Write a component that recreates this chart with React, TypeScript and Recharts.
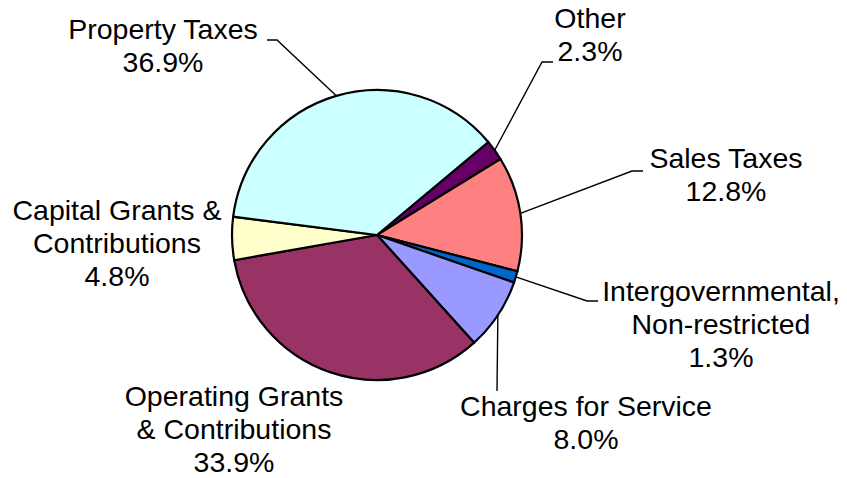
import { PieChart, Pie, Cell } from 'recharts'

// slices in clockwise order, starting at the Property/Other boundary
const categories = [
  'Other',
  'Sales Taxes',
  'Intergovernmental, Non-restricted',
  'Charges for Service',
  'Operating Grants & Contributions',
  'Capital Grants & Contributions',
  'Property Taxes',
]
const shares = [2.3, 12.8, 1.3, 8.0, 33.9, 4.8, 36.9]
const labelLines = [
  ['Other'],
  ['Sales Taxes'],
  ['Intergovernmental,', 'Non-restricted'],
  ['Charges for Service'],
  ['Operating Grants', '& Contributions'],
  ['Capital Grants &', 'Contributions'],
  ['Property Taxes'],
]
const colors = ['#660066', '#FF8080', '#0066CC', '#9999FF', '#993366', '#FFFFCC', '#CCFFFF']

// label placement relative to pie centre: elbow of leader, tail end x, text centre/baseline
const labelLayout = [
  { elbow: [165, -173], tail: 176, text: [213, -207] },
  { elbow: [255, -64], tail: 266, text: [349, -67] },
  { elbow: [210, 66], tail: 221, text: [344, 66] },
  { elbow: [120, 156], tail: null, text: [209, 181] },
  { elbow: null, tail: null, text: [-143, 171] },
  { elbow: null, tail: null, text: [-260, -15] },
  { elbow: [-100, -195], tail: -110, text: [-214, -196] },
]

const data = categories.map((name, i) => ({ name, value: shares[i] }))

const RADIAN = Math.PI / 180
const LINE_H = 33

const renderLabel = (props: any) => {
  const { cx, cy, midAngle, outerRadius, index, value } = props
  const lay = labelLayout[index]
  const sx = cx + outerRadius * Math.cos(-midAngle * RADIAN)
  const sy = cy + outerRadius * Math.sin(-midAngle * RADIAN)
  const lines = [...labelLines[index], `${value.toFixed(1)}%`]
  let path = ''
  if (lay.elbow) {
    const ex = cx + lay.elbow[0]
    const ey = cy + lay.elbow[1]
    path = `M${sx},${sy}L${ex},${ey}`
    if (lay.tail !== null) path += `L${cx + lay.tail},${ey}`
  }
  return (
    <g key={`label-${index}`}>
      {path && <path d={path} stroke="#000" strokeWidth={1.4} fill="none" />}
      <text
        x={cx + lay.text[0]}
        y={cy + lay.text[1]}
        textAnchor="middle"
        fill="#000"
        fontSize={28.5}
        fontFamily="'Liberation Sans', Arial, sans-serif"
      >
        {lines.map((line, i) => (
          <tspan key={i} x={cx + lay.text[0]} y={cy + lay.text[1] + i * LINE_H}>
            {line}
          </tspan>
        ))}
      </text>
    </g>
  )
}

export default function App() {
  return (
    <div style={{ position: 'absolute', left: 0, top: 0, background: '#fff' }}>
      <PieChart width={847} height={478} margin={{ top: 0, right: 0, bottom: 0, left: 0 }}>
        <Pie
          data={data}
          dataKey="value"
          nameKey="name"
          cx={377}
          cy={235}
          outerRadius={145}
          startAngle={39.9}
          endAngle={-320.1}
          stroke="#000"
          strokeWidth={2.2}
          label={renderLabel}
          labelLine={false}
          isAnimationActive={false}
        >
          {data.map((entry, index) => (
            <Cell key={`cell-${index}`} fill={colors[index]} />
          ))}
        </Pie>
      </PieChart>
    </div>
  )
}
